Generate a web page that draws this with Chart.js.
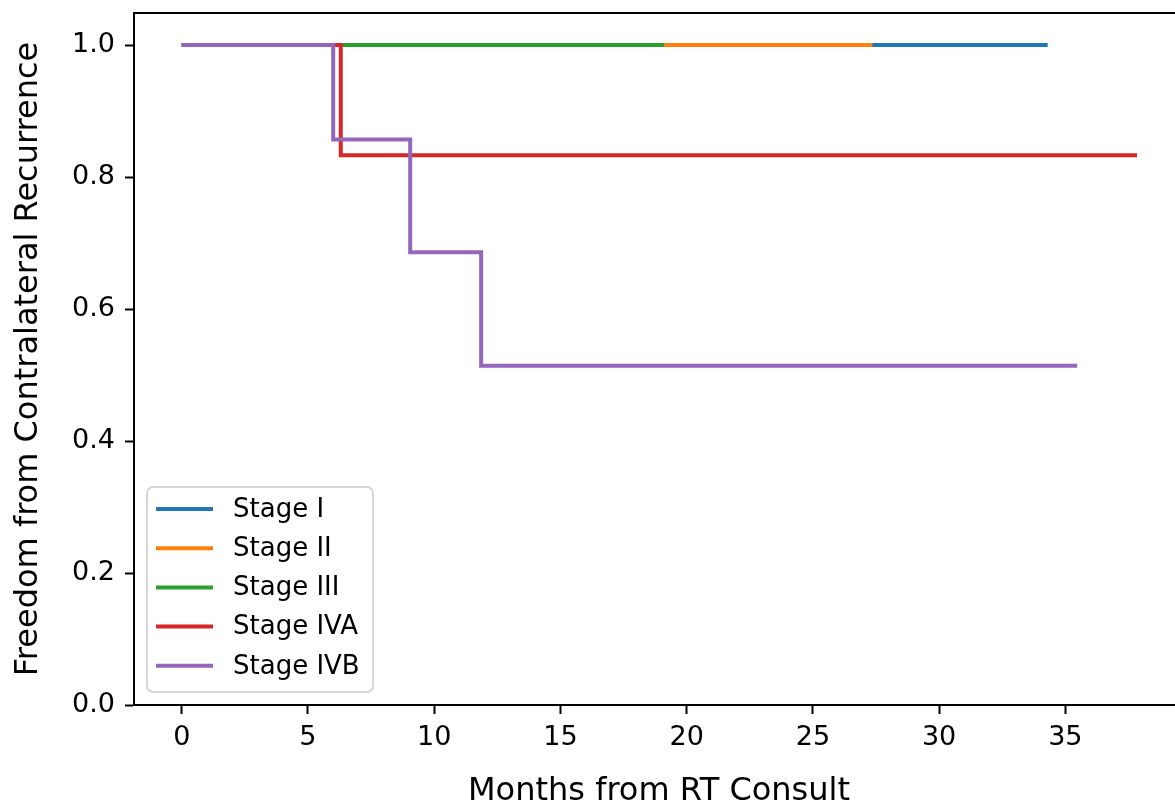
<!DOCTYPE html>
<html>
<head>
<meta charset="utf-8">
<script src="https://cdn.jsdelivr.net/npm/chart.js@4.4.0/dist/chart.umd.min.js"></script>
<style>
  html, body { margin: 0; padding: 0; background: #fff; overflow: hidden; }
  #wrap { width: 1200px; height: 812px; }
</style>
</head>
<body>
<div id="wrap"><canvas id="c" width="1200" height="812"></canvas></div>
<script>
// ---- data ----
const stageLabels = ['Stage I', 'Stage II', 'Stage III', 'Stage IVA', 'Stage IVB'];
const stageColors = ['#1f77b4', '#ff7f0e', '#2ca02c', '#d62728', '#9467bd'];

const stageITimes = [0, 34.3];
const stageIValues = [1.0, 1.0];
const stageIITimes = [0, 27.36];
const stageIIValues = [1.0, 1.0];
const stageIIITimes = [0, 19.1];
const stageIIIValues = [1.0, 1.0];
const stageIVATimes = [0, 6.3, 37.84];
const stageIVAValues = [1.0, 0.833, 0.833];
const stageIVBTimes = [0, 6.0, 9.05, 11.86, 35.47];
const stageIVBValues = [1.0, 0.857, 0.686, 0.514, 0.514];

const xTicks = [0, 5, 10, 15, 20, 25, 30, 35];
const yTicks = [0.0, 0.2, 0.4, 0.6, 0.8, 1.0];
const xTitle = 'Months from RT Consult';
const yTitle = 'Freedom from Contralateral Recurrence';

const seriesTimes = [stageITimes, stageIITimes, stageIIITimes, stageIVATimes, stageIVBTimes];
const seriesValues = [stageIValues, stageIIValues, stageIIIValues, stageIVAValues, stageIVBValues];

const FONT = "'DejaVu Sans', sans-serif";

const datasets = stageLabels.map((lab, i) => ({
  label: lab,
  data: seriesTimes[i].map((t, j) => ({ x: t, y: seriesValues[i][j] })),
  borderColor: stageColors[i],
  backgroundColor: stageColors[i],
  borderWidth: 4,
  stepped: 'before',
  pointRadius: 0,
  fill: false,
  order: stageLabels.length - i,
  borderCapStyle: 'butt',
  borderJoinStyle: 'miter'
}));

const framePlugin = {
  id: 'frame',
  afterDraw(chart) {
    const ctx = chart.ctx, a = chart.chartArea;
    ctx.save();
    ctx.strokeStyle = '#000';
    ctx.lineWidth = 2;
    ctx.beginPath();
    ctx.moveTo(a.left - 1, a.top);
    ctx.lineTo(a.right, a.top);
    ctx.lineTo(a.right, a.bottom);
    ctx.stroke();
    ctx.restore();
  }
};

const legendPlugin = {
  id: 'mplLegend',
  afterDraw(chart) {
    const ctx = chart.ctx, a = chart.chartArea;
    const bx = a.left + 13, bw = 226, bh = 205;
    const by = a.bottom - 13 - bh;
    const r = 6;
    ctx.save();
    ctx.beginPath();
    ctx.moveTo(bx + r, by);
    ctx.lineTo(bx + bw - r, by);
    ctx.arcTo(bx + bw, by, bx + bw, by + r, r);
    ctx.lineTo(bx + bw, by + bh - r);
    ctx.arcTo(bx + bw, by + bh, bx + bw - r, by + bh, r);
    ctx.lineTo(bx + r, by + bh);
    ctx.arcTo(bx, by + bh, bx, by + bh - r, r);
    ctx.lineTo(bx, by + r);
    ctx.arcTo(bx, by, bx + r, by, r);
    ctx.closePath();
    ctx.fillStyle = 'rgba(255,255,255,0.8)';
    ctx.fill();
    ctx.strokeStyle = '#d6d6d6';
    ctx.lineWidth = 2;
    ctx.stroke();
    ctx.font = '26px ' + FONT;
    ctx.textBaseline = 'middle';
    ctx.fillStyle = '#000';
    chart.data.datasets.forEach((ds, i) => {
      const y = by + 22 + i * 39.2;
      ctx.strokeStyle = ds.borderColor;
      ctx.lineWidth = 4;
      ctx.beginPath();
      ctx.moveTo(bx + 9, y);
      ctx.lineTo(bx + 66, y);
      ctx.stroke();
      ctx.fillText(ds.label, bx + 86, y + 1);
    });
    ctx.restore();
  }
};

new Chart(document.getElementById('c'), {
  type: 'line',
  data: { datasets },
  options: {
    responsive: false,
    animation: false,
    devicePixelRatio: 1,
    layout: { padding: { left: 0, top: 13, right: 16, bottom: 0 } },
    plugins: { legend: { display: false }, tooltip: { enabled: false } },
    scales: {
      x: {
        type: 'linear',
        min: -1.89,
        max: 39.7,
        afterBuildTicks(s) { s.ticks = xTicks.map(v => ({ value: v })); },
        afterFit(s) { s.height = 107; s.paddingLeft = 0; s.paddingRight = 0; },
        ticks: { color: '#000', font: { family: FONT, size: 27 }, padding: 8, maxRotation: 0,
                 callback: v => String(v) },
        grid: { display: true, drawOnChartArea: false, drawTicks: true, tickLength: 9, tickWidth: 2, tickColor: '#000' },
        border: { display: true, color: '#000', width: 2 },
        title: { display: true, text: xTitle, color: '#000', font: { family: FONT, size: 32 }, padding: { top: 0, bottom: 1 } }
      },
      y: {
        type: 'linear',
        min: 0,
        max: 1.0485,
        afterBuildTicks(s) { s.ticks = yTicks.map(v => ({ value: v })); },
        afterFit(s) { s.width = 134; s.paddingTop = 0; s.paddingBottom = 0; },
        ticks: { color: '#000', font: { family: FONT, size: 27 }, padding: 10,
                 callback: v => Number(v).toFixed(1) },
        grid: { display: true, drawOnChartArea: false, drawTicks: true, tickLength: 9, tickWidth: 2, tickColor: '#000' },
        border: { display: true, color: '#000', width: 2 },
        title: { display: true, text: yTitle, color: '#000', font: { family: FONT, size: 32 }, padding: { top: 9, bottom: 0 } }
      }
    }
  },
  plugins: [framePlugin, legendPlugin]
});
</script>
</body>
</html>
